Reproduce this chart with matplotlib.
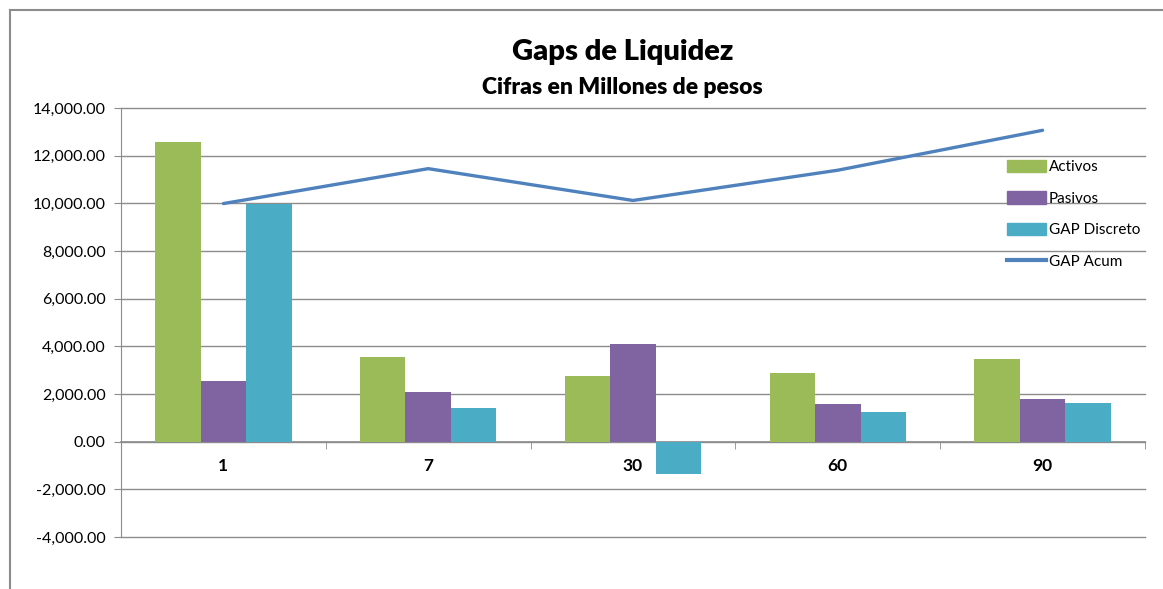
import matplotlib.pyplot as plt
import matplotlib.patches as mpatches
from matplotlib.lines import Line2D
from matplotlib.ticker import FuncFormatter
import numpy as np

plt.rcParams['font.family'] = ['Lato', 'DejaVu Sans']

categorias = ['1', '7', '30', '60', '90']
activos = [12580, 3545, 2760, 2870, 3480]
pasivos = [2535, 2090, 4100, 1575, 1795]
gap_discreto = [9990, 1420, -1370, 1250, 1630]
gap_acum = [9990, 11455, 10120, 11390, 13065]

verde = '#9BBB59'
morado = '#8064A2'
turquesa = '#4BACC6'
azul = '#4F81BD'
gris = '#8C8C8C'

fig = plt.figure(figsize=(11.63, 5.89), dpi=100)
ax = fig.add_axes([121 / 1163, 1 - 537 / 589, (1145 - 121) / 1163, (537 - 108) / 589])

x = np.arange(len(categorias))
ancho = 1 / 4.5
ax.bar(x - ancho, activos, ancho, color=verde, zorder=3)
ax.bar(x, pasivos, ancho, color=morado, zorder=3)
ax.bar(x + ancho, gap_discreto, ancho, color=turquesa, zorder=3)
ax.plot(x, gap_acum, color=azul, lw=2.4, zorder=4, solid_capstyle='round')

ax.set_xlim(-0.5, len(categorias) - 0.5)
ax.set_ylim(-4000, 14000)
ax.set_yticks(np.arange(-4000, 14001, 2000))
ax.yaxis.set_major_formatter(FuncFormatter(lambda v, p: f'{v:,.2f}'))
ax.grid(axis='y', color=gris, lw=1, zorder=0)
for g in ax.get_ygridlines():
    g.set_clip_on(False)
ax.tick_params(axis='y', length=5, color=gris, labelsize=11.5, pad=6)

# eje de categorias sobre el cero
for s in ['top', 'right']:
    ax.spines[s].set_visible(False)
ax.spines['left'].set_color(gris)
ax.spines['bottom'].set_position(('data', 0))
ax.spines['bottom'].set_color(gris)
ax.spines['bottom'].set_linewidth(1.2)
ax.set_xticks(np.arange(-0.5, len(categorias), 1), minor=True)
ax.set_xticks(x)
ax.set_xticklabels(categorias, fontweight='bold', fontsize=12.5)
ax.tick_params(axis='x', which='major', length=0, pad=12)
ax.tick_params(axis='x', which='minor', length=5, color=gris)

fig.text(0.535, 1 - 52 / 589, 'Gaps de Liquidez', ha='center', va='center',
         fontsize=21, fontweight='heavy')
fig.text(0.535, 1 - 88 / 589, 'Cifras en Millones de pesos', ha='center', va='center',
         fontsize=16.5, fontweight='heavy')

manejadores = [mpatches.Patch(color=verde), mpatches.Patch(color=morado),
               mpatches.Patch(color=turquesa), Line2D([], [], color=azul, lw=3)]
ax.legend(manejadores, ['Activos', 'Pasivos', 'GAP Discreto', 'GAP Acum'],
          loc='upper left', bbox_to_anchor=(993 / 1163, 1 - 146 / 589),
          bbox_transform=fig.transFigure, frameon=False, fontsize=11,
          handlelength=2.6, handleheight=0.9, handletextpad=0.15, labelspacing=1.1)

# marco del grafico
fig.add_artist(Line2D([10 / 1163, 1], [1 - 10 / 589, 1 - 10 / 589], color=gris, lw=1.5))
fig.add_artist(Line2D([10 / 1163, 10 / 1163], [0, 1 - 10 / 589], color=gris, lw=1.5))

fig.savefig('out.png', dpi=100)
